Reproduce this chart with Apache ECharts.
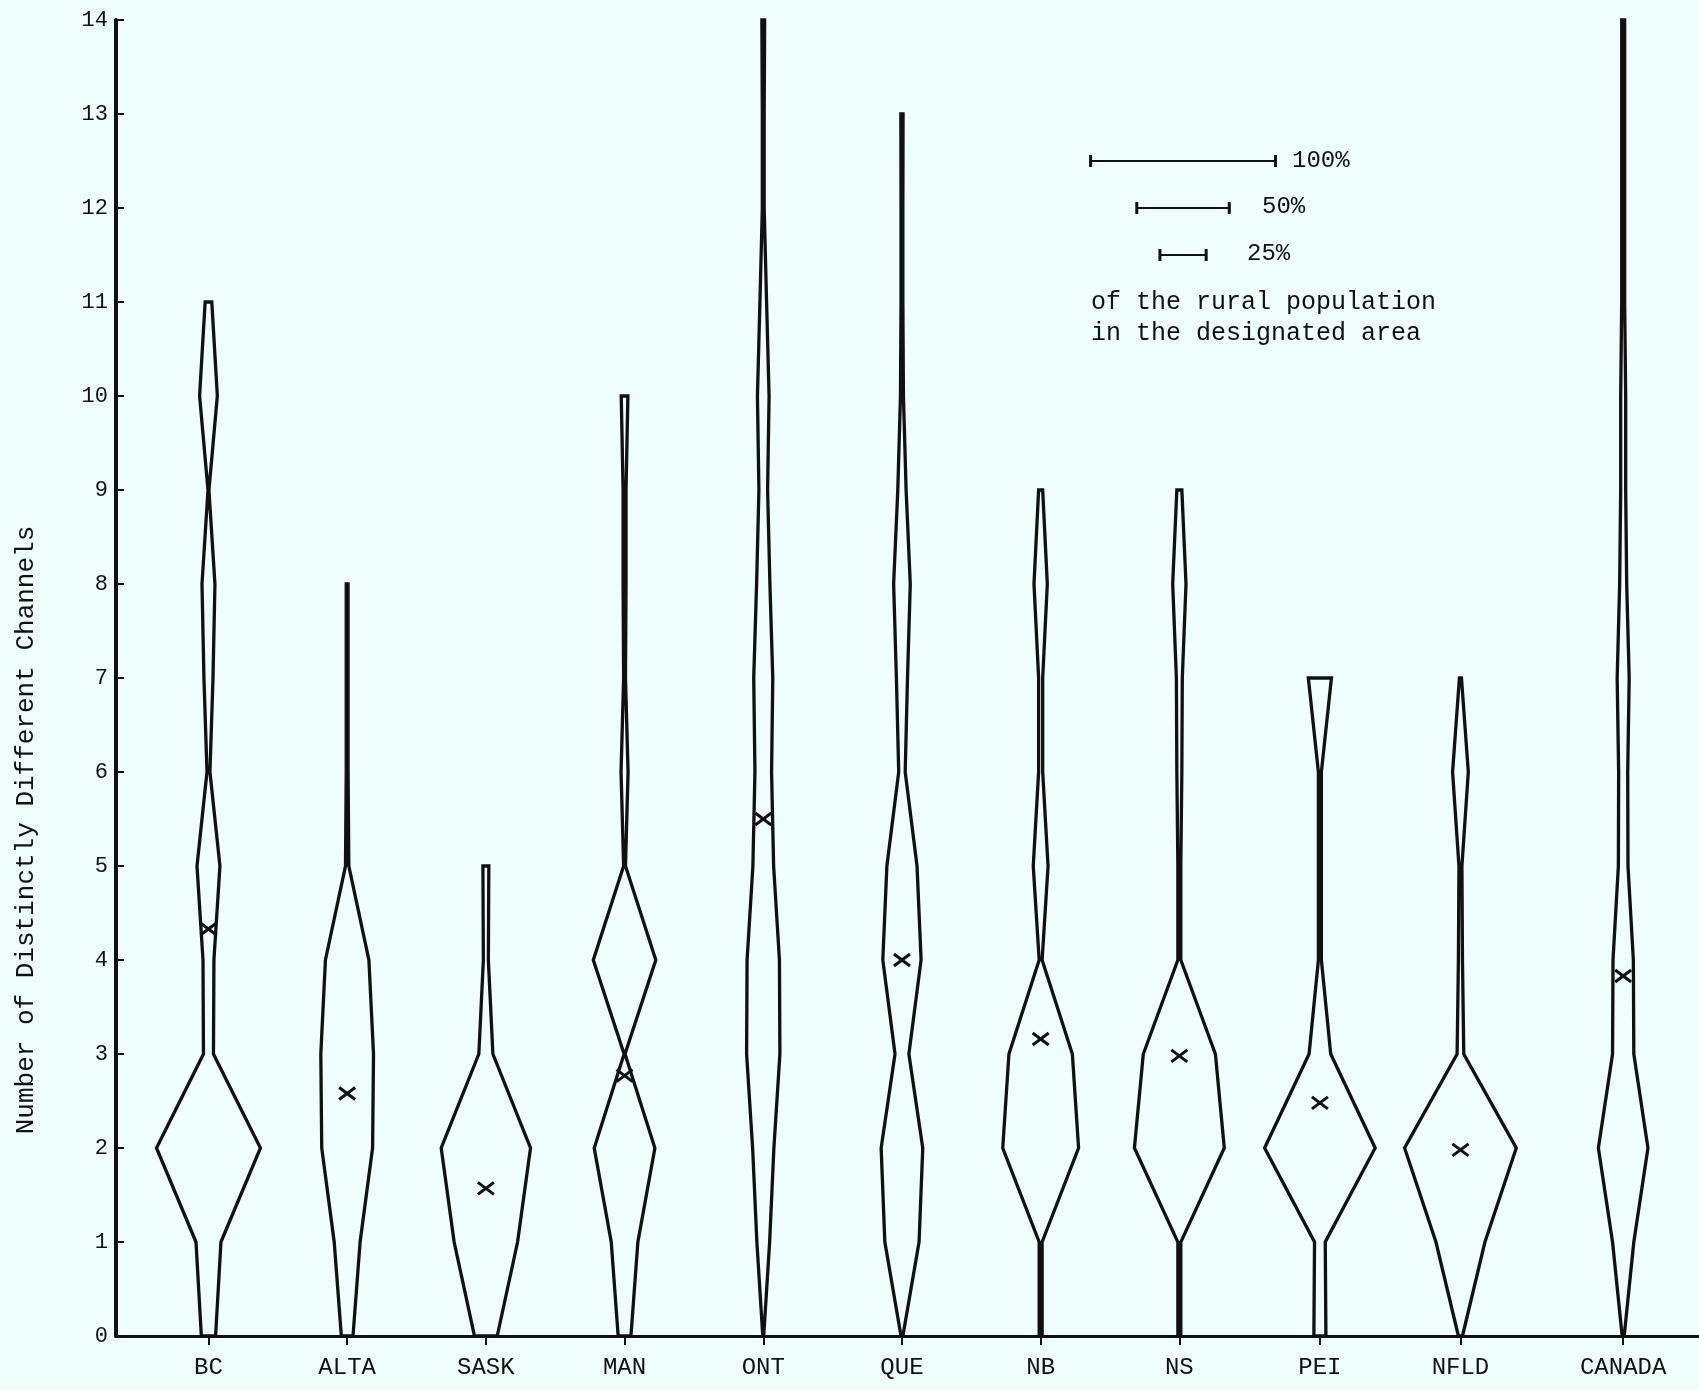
<!DOCTYPE html>
<html>
<head>
<meta charset="utf-8">
<title>Number of Distinctly Different Channels</title>
<script src="https://cdn.jsdelivr.net/npm/echarts@6/dist/echarts.min.js"></script>
<style>
  html, body { margin: 0; padding: 0; background: #effdfd; }
  #chart { width: 1699px; height: 1390px; }
</style>
</head>
<body>
<div id="chart"></div>
<script>
var regions = ['BC', 'ALTA', 'SASK', 'MAN', 'ONT', 'QUE', 'NB', 'NS', 'PEI', 'NFLD', 'CANADA'];

// mean number of channels (the x marks)
var meanChannels = [4.33, 2.58, 1.57, 2.77, 5.5, 4.0, 3.16, 2.98, 2.48, 1.98, 3.83];

// % of the rural population receiving 0, 1, 2 ... channels (width of each profile)
var bc     = [7.7, 13.5, 56.2, 5.4, 5.9, 12.4, 1.6, 4.9, 7.0, 0.5, 9.6, 3.6];
var alta   = [6.3, 14, 27.5, 28.5, 23.5, 1.8, 1, 1, 1];
var sask   = [12.3, 34.3, 48.3, 7.6, 2.7, 3.2];
var man    = [6.9, 14.4, 32.8, 0.5, 33.8, 1, 3.8, 1, 1.6, 1.6, 3.6];
var ont    = [0.5, 6.9, 11.5, 18, 17.5, 11.2, 9, 10.3, 7.2, 4.7, 6.3, 3.6, 1, 1, 1.5];
var que    = [1, 18.5, 22.5, 7.5, 20.7, 16.3, 3.5, 6, 9, 4.5, 1.6, 1, 1, 1.2];
var nb     = [1.6, 1.6, 41, 34.3, 1.6, 8, 2.2, 2.2, 7.2, 2.2];
var ns     = [1.6, 1.6, 48.6, 39, 1.6, 1.6, 2.7, 3.2, 7.2, 2.7];
var pei    = [6.5, 5.8, 59.8, 11.7, 1.6, 1.6, 1.6, 12.5];
var nfld   = [2.2, 26.5, 60.4, 3.6, 2.2, 1.6, 8.5, 1.1];
var canada = [1.1, 11.5, 26.8, 11.5, 11, 5.2, 4.9, 6.5, 3.8, 2.7, 2.7, 1.6, 1.6, 1.6, 1.6];
var shares = [bc, alta, sask, man, ont, que, nb, ns, pei, nfld, canada];

var scaleShares = [100, 50, 25];
var scaleLabels = ['100%', '50%', '25%'];

// layout: x axis runs in "% of population" units so widths share the axis scale
var slotX = [50, 125, 200, 275, 350, 425, 500, 575, 651, 727, 815];
var scaleX = 577;
var scaleY = [12.5, 12, 11.5];

var ink = '#111';
var mono = '"Liberation Mono", "DejaVu Sans Mono", monospace';

var myChart = echarts.init(document.getElementById('chart'));

function violin(params, api) {
    var w = shares[params.dataIndex];
    var cx = api.value(0);
    var right = [], left = [];
    for (var k = 0; k < w.length; k++) {
        right.push(api.coord([cx + w[k] / 2, k]));
        left.unshift(api.coord([cx - w[k] / 2, k]));
    }
    return {
        type: 'polygon',
        shape: { points: right.concat(left) },
        style: { fill: 'none', stroke: ink, lineWidth: 3.3, lineJoin: 'miter' }
    };
}

function cross(params, api) {
    var p = api.coord([api.value(0), api.value(1)]);
    var st = { stroke: ink, lineWidth: 3 };
    return {
        type: 'group',
        children: [
            { type: 'line', shape: { x1: p[0] - 8, y1: p[1] - 6, x2: p[0] + 8, y2: p[1] + 6 }, style: st },
            { type: 'line', shape: { x1: p[0] - 8, y1: p[1] + 6, x2: p[0] + 8, y2: p[1] - 6 }, style: st }
        ]
    };
}

function scaleBar(params, api) {
    var a = api.coord([api.value(0) - api.value(2) / 2, api.value(1)]);
    var b = api.coord([api.value(0) + api.value(2) / 2, api.value(1)]);
    var st = { stroke: ink, lineWidth: 3 };
    return {
        type: 'group',
        children: [
            { type: 'line', shape: { x1: a[0], y1: a[1], x2: b[0], y2: b[1] }, style: { stroke: ink, lineWidth: 2 } },
            { type: 'line', shape: { x1: a[0], y1: a[1] - 6, x2: a[0], y2: a[1] + 6 }, style: st },
            { type: 'line', shape: { x1: b[0], y1: b[1] - 6, x2: b[0], y2: b[1] + 6 }, style: st }
        ]
    };
}

var option = {
    backgroundColor: '#effdfd',
    animation: false,
    grid: { left: 116, right: 0, top: 20, bottom: 54 },
    xAxis: {
        type: 'value',
        min: 0,
        max: 856,
        splitLine: { show: false },
        axisLine: { show: true, lineStyle: { color: ink, width: 3 } },
        axisTick: { show: true, customValues: slotX, length: 9, lineStyle: { color: ink, width: 2 } },
        axisLabel: {
            customValues: slotX,
            formatter: function (v) { return regions[slotX.indexOf(v)]; },
            margin: 20,
            color: ink,
            fontFamily: mono,
            fontSize: 24
        }
    },
    yAxis: {
        type: 'value',
        min: 0,
        max: 14,
        interval: 1,
        splitLine: { show: false },
        axisLine: { show: true, lineStyle: { color: ink, width: 4 } },
        axisTick: { show: true, inside: true, length: 8, lineStyle: { color: ink, width: 2 } },
        axisLabel: { margin: 8, color: ink, fontFamily: mono, fontSize: 22 }
    },
    series: [
        {
            type: 'custom',
            name: 'profile',
            renderItem: violin,
            data: slotX.map(function (x) { return [x, 0]; }),
            silent: true
        },
        {
            type: 'custom',
            name: 'mean',
            renderItem: cross,
            data: slotX.map(function (x, i) { return [x, meanChannels[i]]; }),
            silent: true
        },
        {
            type: 'custom',
            name: 'scale',
            renderItem: scaleBar,
            data: scaleShares.map(function (s, i) { return [scaleX, scaleY[i], s]; }),
            silent: true
        }
    ],
    graphic: [
        { type: 'text', x: 1292, y: 161, style: { text: scaleLabels[0], fill: ink, fontFamily: mono, fontSize: 24, verticalAlign: 'middle' } },
        { type: 'text', x: 1262, y: 207, style: { text: scaleLabels[1], fill: ink, fontFamily: mono, fontSize: 24, verticalAlign: 'middle' } },
        { type: 'text', x: 1247, y: 254, style: { text: scaleLabels[2], fill: ink, fontFamily: mono, fontSize: 24, verticalAlign: 'middle' } },
        { type: 'text', x: 1091, y: 302, style: { text: 'of the rural population', fill: ink, fontFamily: mono, fontSize: 25, verticalAlign: 'middle' } },
        { type: 'text', x: 1091, y: 333, style: { text: 'in the designated area', fill: ink, fontFamily: mono, fontSize: 25, verticalAlign: 'middle' } },
        {
            type: 'text', x: 26, y: 830, rotation: Math.PI / 2,
            style: { text: 'Number of Distinctly Different Channels', fill: ink, fontFamily: mono, fontSize: 26, align: 'center', verticalAlign: 'middle' }
        }
    ]
};

myChart.setOption(option);
</script>
</body>
</html>
